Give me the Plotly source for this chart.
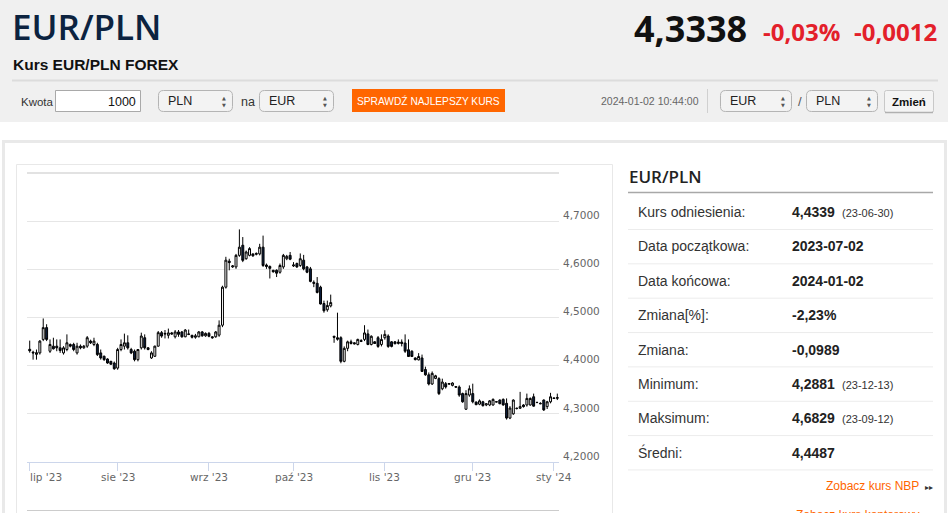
import plotly.graph_objects as go
import pandas as pd

# ---------------- data (EUR/PLN daily candles) ----------------
_all_days = pd.date_range("2023-07-02", "2024-01-02", freq="D")
_missing = {pd.Timestamp("2023-12-24"), pd.Timestamp("2023-12-31")}
dates = [d.strftime("%Y-%m-%d") for d in _all_days if d.weekday() != 5 and d not in _missing]

opens = [
    4.4340, 4.4280, 4.4235, 4.4265, 4.4545, 4.4790, 4.4300, 4.4405, 4.4405, 4.4370,
    4.4265, 4.4335, 4.4440, 4.4440, 4.4265, 4.4405, 4.4370, 4.4405, 4.4510, 4.4440,
    4.4440, 4.4265, 4.4195, 4.4139, 4.4090, 4.4055, 4.3950, 4.4335, 4.4405, 4.4475,
    4.4335, 4.4300, 4.4125, 4.4370, 4.4580, 4.4370, 4.4160, 4.4195, 4.4405, 4.4685,
    4.4670, 4.4630, 4.4680, 4.4600, 4.4700, 4.4700, 4.4600, 4.4660, 4.4630, 4.4590,
    4.4600, 4.4700, 4.4620, 4.4670, 4.4600, 4.4600, 4.4634, 4.4840, 4.5630, 4.6170,
    4.6050, 4.6050, 4.6290, 4.6500, 4.6220, 4.6290, 4.6320, 4.6310, 4.6320, 4.6460,
    4.6090, 4.6060, 4.5980, 4.5980, 4.5940, 4.6050, 4.6220, 4.6290, 4.6070, 4.6120,
    4.6080, 4.6190, 4.6050, 4.6010, 4.5730, 4.5710, 4.5630, 4.5290, 4.5160, 4.5240,
    4.4610, 4.4580, 4.4580, 4.4090, 4.4360, 4.4495, 4.4475, 4.4440, 4.4520, 4.4545,
    4.4660, 4.4440, 4.4495, 4.4580, 4.4440, 4.4580, 4.4615, 4.4495, 4.4495, 4.4460,
    4.4490, 4.4470, 4.4330, 4.4300, 4.4160, 4.4120, 4.4160, 4.3920, 4.3810, 4.3620,
    4.3735, 4.3730, 4.3520, 4.3626, 4.3615, 4.3590, 4.3565, 4.3558, 4.3420, 4.3096,
    4.3390, 4.3420, 4.3245, 4.3200, 4.3250, 4.3184, 4.3184, 4.3184, 4.3252, 4.3286,
    4.3300, 4.3218, 4.2912, 4.3000, 4.3116, 4.3116, 4.3184, 4.3184, 4.3184, 4.3354,
    4.3238, 4.3218, 4.3286, 4.3150, 4.3250, 4.3330, 4.3320,
]
highs = [
    4.4520, 4.4310, 4.4335, 4.4530, 4.4980, 4.4860, 4.4545, 4.4580, 4.4545, 4.4545,
    4.4405, 4.4650, 4.4460, 4.4475, 4.4475, 4.4440, 4.4430, 4.4615, 4.4540, 4.4580,
    4.4475, 4.4335, 4.4210, 4.4153, 4.4100, 4.4085, 4.4370, 4.4545, 4.4665, 4.4630,
    4.4370, 4.4335, 4.4345, 4.4685, 4.4650, 4.4385, 4.4300, 4.4415, 4.4720, 4.4720,
    4.4740, 4.4770, 4.4700, 4.4740, 4.4740, 4.4720, 4.4760, 4.4750, 4.4640, 4.4660,
    4.4720, 4.4720, 4.4690, 4.4700, 4.4610, 4.4720, 4.4940, 4.5660, 4.6260, 4.6220,
    4.6090, 4.6320, 4.6829, 4.6670, 4.6390, 4.6460, 4.6330, 4.6350, 4.6530, 4.6700,
    4.6120, 4.6080, 4.5990, 4.6000, 4.6120, 4.6320, 4.6300, 4.6360, 4.6150, 4.6140,
    4.6330, 4.6300, 4.6070, 4.6050, 4.5770, 4.5840, 4.5660, 4.5350, 4.5350, 4.5475,
    4.4620, 4.5100, 4.4610, 4.4400, 4.4520, 4.4540, 4.4485, 4.4560, 4.4550, 4.4840,
    4.4750, 4.4630, 4.4510, 4.4615, 4.4650, 4.4735, 4.4650, 4.4510, 4.4510, 4.4545,
    4.4545, 4.4650, 4.4545, 4.4320, 4.4170, 4.4260, 4.4230, 4.3980, 4.3860, 4.3880,
    4.3810, 4.3760, 4.3730, 4.3660, 4.3640, 4.3655, 4.3570, 4.3590, 4.3440, 4.3490,
    4.3590, 4.3626, 4.3255, 4.3300, 4.3270, 4.3218, 4.3286, 4.3320, 4.3260, 4.3300,
    4.3320, 4.3320, 4.3160, 4.3300, 4.3130, 4.3456, 4.3200, 4.3420, 4.3340, 4.3420,
    4.3250, 4.3240, 4.3300, 4.3270, 4.3436, 4.3340, 4.3420,
]
lows = [
    4.4270, 4.4125, 4.4125, 4.4230, 4.4510, 4.4510, 4.4265, 4.4335, 4.4300, 4.4265,
    4.4230, 4.4300, 4.4380, 4.4300, 4.4230, 4.4340, 4.4350, 4.4370, 4.4450, 4.4405,
    4.4200, 4.4125, 4.4100, 4.4040, 4.4020, 4.3915, 4.3915, 4.4300, 4.4335, 4.4335,
    4.4240, 4.4090, 4.4090, 4.4335, 4.4335, 4.4320, 4.4140, 4.4180, 4.4395, 4.4580,
    4.4565, 4.4565, 4.4640, 4.4565, 4.4600, 4.4580, 4.4590, 4.4634, 4.4565, 4.4560,
    4.4590, 4.4600, 4.4600, 4.4590, 4.4560, 4.4580, 4.4600, 4.4800, 4.5600, 4.5980,
    4.6030, 4.6010, 4.6260, 4.6150, 4.6200, 4.6270, 4.6260, 4.6290, 4.6290, 4.6050,
    4.6010, 4.5810, 4.5930, 4.5840, 4.5910, 4.6010, 4.6190, 4.6190, 4.6050, 4.6030,
    4.6050, 4.5980, 4.5920, 4.5730, 4.5630, 4.5500, 4.5270, 4.5100, 4.5120, 4.5210,
    4.4475, 4.4520, 4.4050, 4.4070, 4.4300, 4.4440, 4.4440, 4.4420, 4.4490, 4.4510,
    4.4425, 4.4420, 4.4450, 4.4370, 4.4400, 4.4540, 4.4370, 4.4380, 4.4445, 4.4440,
    4.4400, 4.4265, 4.4185, 4.4180, 4.4110, 4.4110, 4.3870, 4.3790, 4.3590, 4.3600,
    4.3720, 4.3390, 4.3490, 4.3524, 4.3600, 4.3570, 4.3540, 4.3354, 4.3230, 4.3080,
    4.3354, 4.3218, 4.3180, 4.3180, 4.3150, 4.3160, 4.3160, 4.3170, 4.3240, 4.3200,
    4.3170, 4.2881, 4.2890, 4.2980, 4.3090, 4.3100, 4.3130, 4.3150, 4.3170, 4.3150,
    4.3220, 4.3200, 4.3060, 4.3100, 4.3218, 4.3310, 4.3286,
]
closes = [
    4.4310, 4.4265, 4.4270, 4.4510, 4.4790, 4.4545, 4.4440, 4.4350, 4.4370, 4.4314,
    4.4370, 4.4475, 4.4405, 4.4335, 4.4405, 4.4370, 4.4405, 4.4580, 4.4475, 4.4510,
    4.4230, 4.4160, 4.4125, 4.4055, 4.4030, 4.3936, 4.4335, 4.4440, 4.4475, 4.4370,
    4.4265, 4.4125, 4.4335, 4.4615, 4.4370, 4.4335, 4.4265, 4.4405, 4.4685, 4.4615,
    4.4660, 4.4680, 4.4660, 4.4700, 4.4650, 4.4600, 4.4740, 4.4650, 4.4590, 4.4620,
    4.4700, 4.4620, 4.4670, 4.4610, 4.4580, 4.4700, 4.4840, 4.5630, 4.6190, 4.6140,
    4.6070, 4.6290, 4.6460, 4.6186, 4.6360, 4.6430, 4.6280, 4.6330, 4.6460, 4.6080,
    4.6060, 4.6020, 4.5950, 4.5920, 4.6080, 4.6290, 4.6270, 4.6210, 4.6090, 4.6050,
    4.6220, 4.6010, 4.5940, 4.5750, 4.5710, 4.5520, 4.5280, 4.5140, 4.5250, 4.5310,
    4.4590, 4.4550, 4.4090, 4.4360, 4.4495, 4.4460, 4.4455, 4.4545, 4.4505, 4.4680,
    4.4440, 4.4610, 4.4460, 4.4400, 4.4545, 4.4650, 4.4400, 4.4400, 4.4455, 4.4490,
    4.4460, 4.4300, 4.4190, 4.4190, 4.4125, 4.4190, 4.3880, 4.3810, 4.3620, 4.3840,
    4.3790, 4.3420, 4.3660, 4.3558, 4.3630, 4.3640, 4.3555, 4.3390, 4.3250, 4.3420,
    4.3520, 4.3250, 4.3190, 4.3270, 4.3170, 4.3210, 4.3270, 4.3300, 4.3246, 4.3210,
    4.3184, 4.2912, 4.3120, 4.3286, 4.3112, 4.3150, 4.3150, 4.3320, 4.3320, 4.3160,
    4.3235, 4.3210, 4.3082, 4.3250, 4.3354, 4.3320, 4.3338,
]

month_tick_dates = ["2023-07-02", "2023-08-01", "2023-09-01", "2023-10-01",
                    "2023-11-01", "2023-12-01", "2024-01-01"]
month_tick_text = ["lip '23", "sie '23", "wrz '23", "paź '23", "lis '23", "gru '23", "sty '24"]
y_ticks = [4.2, 4.3, 4.4, 4.5, 4.6, 4.7]

table_labels = ["Kurs odniesienia:", "Data początkowa:", "Data końcowa:", "Zmiana[%]:",
                "Zmiana:", "Minimum:", "Maksimum:", "Średni:"]
table_values = ["4,4339", "2023-07-02", "2024-01-02", "-2,23%", "-0,0989",
                "4,2881", "4,6829", "4,4487"]
table_notes = ["(23-06-30)", "", "", "", "", "(23-12-13)", "(23-09-12)", ""]

# ---------------- geometry helpers ----------------
W, H = 948, 513
PL, PR, PT, PB = 27, 559, 173, 462


def fx(x):
    return (x - PL) / (PR - PL)


def fy(y):
    return (PB - y) / (PB - PT)


ARIAL = "Liberation Sans, Arial, sans-serif"
OPEN = "Open Sans, sans-serif"
DEJA = "DejaVu Sans, Verdana, sans-serif"

shapes = []
annotations = []


def rect(x0, y0, x1, y1, fill=None, line=None, lw=1, layer="below"):
    shapes.append(dict(type="rect", xref="paper", yref="paper",
                       x0=fx(x0), x1=fx(x1), y0=fy(y1), y1=fy(y0),
                       fillcolor=fill if fill else "rgba(0,0,0,0)",
                       line=dict(color=line if line else "rgba(0,0,0,0)", width=lw if line else 0),
                       layer=layer))


def hline(x0, x1, y, color, lw=1, layer="below"):
    shapes.append(dict(type="line", xref="paper", yref="paper",
                       x0=fx(x0), x1=fx(x1), y0=fy(y), y1=fy(y),
                       line=dict(color=color, width=lw), layer=layer))


def vline(x, y0, y1, color, lw=1, layer="below"):
    shapes.append(dict(type="line", xref="paper", yref="paper",
                       x0=fx(x), x1=fx(x), y0=fy(y0), y1=fy(y1),
                       line=dict(color=color, width=lw), layer=layer))


def rrect(x0, y0, x1, y1, r, fill, line, lw=1):
    pts = lambda x, y: f"{fx(x):.6f},{fy(y):.6f}"
    path = (f"M {pts(x0 + r, y0)} L {pts(x1 - r, y0)} Q {pts(x1, y0)} {pts(x1, y0 + r)} "
            f"L {pts(x1, y1 - r)} Q {pts(x1, y1)} {pts(x1 - r, y1)} "
            f"L {pts(x0 + r, y1)} Q {pts(x0, y1)} {pts(x0, y1 - r)} "
            f"L {pts(x0, y0 + r)} Q {pts(x0, y0)} {pts(x0 + r, y0)} Z")
    shapes.append(dict(type="path", xref="paper", yref="paper", path=path,
                       fillcolor=fill, line=dict(color=line, width=lw), layer="below"))


def text(x, y, s, size, color="#333333", family=ARIAL, weight="normal", anchor="left"):
    annotations.append(dict(xref="paper", yref="paper", x=fx(x), y=fy(y), text=s,
                            showarrow=False, xanchor=anchor, yanchor="middle",
                            borderpad=0,
                            font=dict(size=size, color=color, family=family, weight=weight)))


# ---------------- page: header ----------------
rect(0, 0, W, 122, fill="#f0f0f0")
hline(12, 938, 80.5, "#dcdcdc", 2)

text(11, 26.5, "EUR/PLN", 35, "#0c2340", OPEN, 600)
text(12, 64, "Kurs EUR/PLN FOREX", 15.5, "#111111", ARIAL, "bold")
text(748, 28.5, "4,3338", 36, "#111111", OPEN, 700, "right")
text(762, 31.5, "-0,03%", 24, "#e3202a", OPEN, 700)
text(938, 31.5, "-0,0012", 24, "#e3202a", OPEN, 700, "right")

# form row
text(20, 101.5, "Kwota", 11.5, "#333333")
rect(55.5, 90.5, 140.5, 111.5, fill="#ffffff", line="#a9a9a9")
text(137, 101.5, "1000", 12.5, "#111111", anchor="right")


def select_box(x0, x1, label):
    rrect(x0 + 0.5, 90.5, x1 - 0.5, 111.5, 5, "#f3f3f3", "#b4b4b4")
    text(x0 + 8.5, 101, label, 12.5, "#222222")
    text(x1 - 9.5, 98.5, "▲", 5, "#555555", DEJA, anchor="center")
    text(x1 - 9.5, 104.5, "▼", 5, "#555555", DEJA, anchor="center")


select_box(158, 233, "PLN")
text(240, 101.5, "na", 12.5, "#333333")
select_box(259, 334, "EUR")
rect(352, 89, 505, 112, fill="#ff6600")
text(428.5, 100.5, "SPRAWDŹ NAJLEPSZY KURS", 10.2, "#ffffff", ARIAL, anchor="center")
text(600, 101, "2024-01-02 10:44:00", 10.5, "#666666")
vline(707.5, 89, 113, "#d0d0d0")
select_box(720, 792, "EUR")
text(799.5, 101.5, "/", 13, "#555555", anchor="center")
select_box(806, 878, "PLN")
rrect(884.5, 90.5, 933.5, 112.5, 2, "#f4f4f4", "#c8c8c8")
hline(885, 933, 112.5, "#b0b0b0", 1.5)
text(909, 101.5, "Zmień", 11.5, "#111111", ARIAL, "bold", "center")

# ---------------- page: lower panel ----------------
rect(3.5, 141.5, 945.5, 530, fill="#ffffff", line="#e9e9e9", lw=3)
rect(16.5, 164.5, 612.5, 530, fill="#ffffff", line="#e8e8e8", lw=1)
hline(PL, PR, 173, "#e2e2e2", 2)
hline(PL, PR, 510.5, "#cccccc", 1)

# info table
text(628, 176.8, "EUR/PLN", 17, "#222222", OPEN, 600)
hline(628, 933, 192.5, "#a8a8a8", 1.5)
for i, (lab, val, note) in enumerate(zip(table_labels, table_values, table_notes)):
    yc = 212 + 34.4 * i
    text(637, yc, lab, 14, "#333333")
    text(791, yc, val, 14, "#222222", ARIAL, "bold")
    if note:
        text(841, yc + 1, note, 11, "#333333")
    hline(628, 933, 229.5 + 34.35 * i, "#ececec", 1)

text(919.5, 486, "Zobacz kurs NBP", 12, "#ff6600", anchor="right")
text(928.5, 487, "▸▸", 8, "#333333", DEJA, anchor="center")
text(919.5, 515, "Zobacz kurs kantorowy", 12, "#ff6600", anchor="right")
text(928.5, 516, "▸▸", 8, "#333333", DEJA, anchor="center")

# ---------------- chart ----------------
fig = go.Figure()
fig.add_trace(go.Candlestick(
    x=dates, open=opens, high=highs, low=lows, close=closes,
    increasing=dict(line=dict(color="#000000", width=1), fillcolor="#ffffff"),
    decreasing=dict(line=dict(color="#000000", width=1), fillcolor="#0b1d3d"),
    whiskerwidth=0, hoverinfo="skip", showlegend=False,
))

for d, t in zip(month_tick_dates, month_tick_text):
    first = d == month_tick_dates[0]
    annotations.append(dict(xref="x", yref="paper", x=d, y=fy(476.5), text=t,
                            showarrow=False, xanchor="left" if first else "center",
                            yanchor="middle", xshift=-2 if first else 0,
                            font=dict(size=10.5, color="#666666", family=DEJA)))

fig.update_layout(
    width=W, height=H, autosize=False,
    margin=dict(l=PL, r=W - PR, t=PT, b=H - PB, pad=0),
    paper_bgcolor="#ffffff", plot_bgcolor="#ffffff",
    separators=", ",
    boxgap=0.18,
    showlegend=False,
    shapes=shapes, annotations=annotations,
    xaxis=dict(type="category", categoryorder="array", categoryarray=dates,
               range=[-0.8, len(dates) - 0.5],
               rangeslider=dict(visible=False),
               showgrid=False, zeroline=False,
               showline=True, linecolor="#ccd6eb", linewidth=1,
               tickmode="array", tickvals=month_tick_dates, ticktext=month_tick_text,
               showticklabels=False, ticks="outside", ticklen=8,
               tickcolor="#ccd6eb", tickwidth=1, fixedrange=True),
    yaxis=dict(side="right", range=[4.2, 4.8], tickmode="array", tickvals=y_ticks,
               tickformat=".4f", showgrid=True, gridcolor="#e6e6e6", gridwidth=1,
               zeroline=False, showline=False, ticks="",
               ticklabelstandoff=3, ticklabelshift=-6,
               tickfont=dict(size=10.5, color="#666666", family=DEJA),
               fixedrange=True),
)

fig.write_html("out.html", config={"displayModeBar": False, "staticPlot": True})
